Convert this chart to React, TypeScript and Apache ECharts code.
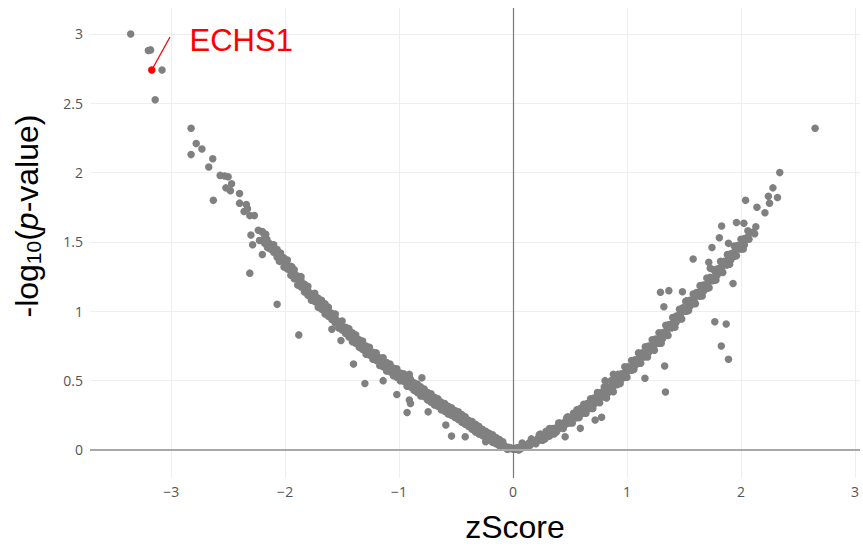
import React, { useEffect, useRef } from "react";
import * as echarts from "echarts";

// Axis ranges
const X_MIN = -3.712;
const X_MAX = 3.044;
const Y_MIN = -0.202;
const Y_MAX = 3.187;

// Dense band of the left arm (zScore, -log10 p)
const leftArm: [number, number][] = [
  [-2.2, 1.57], [-2.18, 1.53], [-2.16, 1.52], [-2.14, 1.49], [-2.15, 1.47], [-2.12, 1.48], [-2.1, 1.45],
  [-2.08, 1.44], [-2.07, 1.41], [-2.04, 1.4], [-2.02, 1.37], [-2.05, 1.36], [-2.0, 1.36], [-1.98, 1.33],
  [-1.96, 1.31], [-1.95, 1.29], [-1.94, 1.32], [-1.92, 1.27], [-1.9, 1.25], [-1.88, 1.23], [-1.87, 1.2],
  [-1.86, 1.22], [-1.84, 1.19], [-1.82, 1.17], [-1.8, 1.15], [-1.79, 1.13], [-1.78, 1.12], [-1.76, 1.12],
  [-1.75, 1.09], [-1.72, 1.09], [-1.71, 1.06], [-1.7, 1.07], [-1.68, 1.05], [-1.66, 1.03], [-1.64, 1.02],
  [-1.63, 0.99], [-1.62, 1.0], [-1.6, 0.98], [-1.58, 0.96], [-1.56, 0.95], [-1.55, 0.92], [-1.54, 0.93],
  [-1.52, 0.92], [-1.5, 0.89], [-1.48, 0.88], [-1.47, 0.86], [-1.46, 0.85], [-1.44, 0.85], [-1.42, 0.82],
  [-1.4, 0.82], [-1.39, 0.79], [-1.38, 0.8], [-1.36, 0.79], [-1.34, 0.76], [-1.32, 0.76], [-1.31, 0.73],
  [-1.3, 0.74], [-1.28, 0.73], [-1.26, 0.71], [-1.24, 0.7], [-1.23, 0.68], [-1.22, 0.69], [-1.2, 0.68],
  [-1.18, 0.65], [-1.16, 0.65], [-1.15, 0.62], [-1.14, 0.63], [-1.12, 0.62], [-1.1, 0.6], [-1.08, 0.59],
  [-1.07, 0.57], [-1.06, 0.58], [-1.04, 0.57], [-1.02, 0.55], [-1.0, 0.54], [-0.99, 0.52], [-0.98, 0.53],
  [-0.96, 0.52], [-0.94, 0.5], [-0.92, 0.5], [-0.91, 0.48], [-0.9, 0.47], [-0.88, 0.47], [-0.86, 0.45],
  [-0.84, 0.45], [-0.83, 0.43], [-0.82, 0.42], [-0.8, 0.42], [-0.78, 0.4], [-0.76, 0.4], [-0.75, 0.38],
  [-0.74, 0.39], [-0.72, 0.38], [-0.7, 0.36], [-0.68, 0.36], [-0.67, 0.34], [-0.66, 0.33], [-0.64, 0.33],
  [-0.62, 0.31], [-0.6, 0.31], [-0.59, 0.29], [-0.58, 0.3], [-0.56, 0.29], [-0.54, 0.27], [-0.52, 0.27],
  [-0.51, 0.25], [-0.5, 0.26], [-0.48, 0.25], [-0.46, 0.23], [-0.44, 0.23], [-0.43, 0.21], [-0.42, 0.22],
  [-0.4, 0.2], [-0.38, 0.19], [-0.36, 0.18], [-0.35, 0.16], [-0.34, 0.17], [-0.32, 0.16], [-0.3, 0.14],
  [-0.28, 0.13], [-0.27, 0.12], [-0.26, 0.125], [-0.24, 0.11], [-0.22, 0.1], [-0.2, 0.09], [-0.19, 0.08],
  [-0.16, 0.07], [-0.15, 0.06], [-0.14, 0.065], [-0.12, 0.05], [-0.1, 0.04], [-0.08, 0.035], [-0.07, 0.025],
  [-0.04, 0.02], [-0.03, 0.01], [-0.02, 0.015], [0.0, 0.005], [0.01, 0.01],
];
const leftArmUpper: [number, number][] = [
  [-2.1, 1.48], [-2.04, 1.42], [-1.98, 1.37], [-1.92, 1.3], [-1.86, 1.25], [-1.8, 1.18], [-1.74, 1.13],
  [-1.68, 1.08], [-1.62, 1.03], [-1.56, 0.98], [-1.5, 0.93], [-1.44, 0.875], [-1.38, 0.83], [-1.32, 0.785],
  [-1.26, 0.74], [-1.2, 0.7], [-1.14, 0.665], [-1.08, 0.62], [-1.02, 0.585], [-0.96, 0.55], [-0.9, 0.51],
  [-0.84, 0.475], [-0.78, 0.44], [-0.72, 0.405], [-0.66, 0.37], [-0.6, 0.335], [-0.54, 0.305], [-0.48, 0.275],
  [-0.42, 0.24], [-0.36, 0.205], [-0.3, 0.17], [-0.24, 0.135], [-0.18, 0.11], [-0.12, 0.075],
];
const leftArmUpperMid: [number, number][] = [
  [-2.07, 1.445], [-2.01, 1.385], [-1.95, 1.325], [-1.89, 1.255], [-1.83, 1.195], [-1.77, 1.125], [-1.71, 1.095],
  [-1.65, 1.055], [-1.59, 0.985], [-1.53, 0.925], [-1.47, 0.885], [-1.41, 0.845], [-1.35, 0.795], [-1.29, 0.75],
  [-1.23, 0.705], [-1.17, 0.665], [-1.11, 0.63], [-1.05, 0.59], [-0.99, 0.555], [-0.93, 0.52], [-0.87, 0.485],
  [-0.81, 0.455], [-0.75, 0.415], [-0.69, 0.38], [-0.63, 0.345], [-0.57, 0.315], [-0.51, 0.285], [-0.45, 0.255],
  [-0.39, 0.215], [-0.33, 0.185], [-0.27, 0.15], [-0.21, 0.12], [-0.15, 0.09], [-0.09, 0.06],
];
const leftArmLowerMid: [number, number][] = [
  [-2.1, 1.425], [-2.04, 1.365], [-1.98, 1.305], [-1.92, 1.235], [-1.86, 1.175], [-1.8, 1.115], [-1.74, 1.07],
  [-1.68, 1.015], [-1.62, 0.965], [-1.56, 0.915], [-1.5, 0.865], [-1.44, 0.815], [-1.38, 0.77], [-1.32, 0.725],
  [-1.26, 0.685], [-1.2, 0.645], [-1.14, 0.6], [-1.08, 0.565], [-1.02, 0.525], [-0.96, 0.495], [-0.9, 0.455],
  [-0.84, 0.415], [-0.78, 0.385], [-0.72, 0.345], [-0.66, 0.315], [-0.6, 0.28], [-0.54, 0.25], [-0.48, 0.22],
  [-0.42, 0.185], [-0.36, 0.15], [-0.3, 0.115], [-0.24, 0.085], [-0.18, 0.055], [-0.12, 0.03],
];
const leftArmLower: [number, number][] = [
  [-2.13, 1.45], [-2.07, 1.39], [-2.01, 1.32], [-1.95, 1.26], [-1.89, 1.19], [-1.83, 1.14], [-1.77, 1.08],
  [-1.71, 1.03], [-1.65, 0.98], [-1.59, 0.94], [-1.53, 0.88], [-1.47, 0.84], [-1.41, 0.78], [-1.35, 0.74],
  [-1.29, 0.69], [-1.23, 0.655], [-1.17, 0.61], [-1.11, 0.57], [-1.05, 0.535], [-0.99, 0.5], [-0.93, 0.46],
  [-0.87, 0.43], [-0.81, 0.39], [-0.75, 0.36], [-0.69, 0.325], [-0.63, 0.29], [-0.57, 0.26], [-0.51, 0.235],
  [-0.45, 0.2], [-0.39, 0.17], [-0.33, 0.13], [-0.27, 0.105], [-0.21, 0.075], [-0.15, 0.045], [-0.09, 0.02],
  [-0.05, 0.005],
];

// Points off the left band
const leftScatter: [number, number][] = [
  [-2.825, 2.32], [-2.78, 2.21], [-2.73, 2.17], [-2.825, 2.13], [-2.635, 2.1], [-2.67, 2.04], [-2.57, 1.98],
  [-2.53, 1.975], [-2.5, 1.97], [-2.47, 1.92], [-2.52, 1.89], [-2.48, 1.87], [-2.4, 1.85], [-2.63, 1.8],
  [-2.4, 1.78], [-2.34, 1.77], [-2.33, 1.74], [-2.36, 1.72], [-2.31, 1.69], [-2.27, 1.69], [-2.3, 1.55],
  [-2.235, 1.585], [-2.2, 1.575], [-2.17, 1.555], [-2.285, 1.48], [-2.2, 1.41], [-2.225, 1.51], [-2.18, 1.49],
  [-2.155, 1.46], [-2.31, 1.275], [-2.07, 1.05], [-1.88, 0.83], [-1.59, 0.87], [-1.51, 0.79], [-1.4, 0.62],
  [-1.3, 0.48], [-1.14, 0.5], [-1.02, 0.4], [-0.91, 0.545], [-0.8, 0.52], [-0.91, 0.36], [-0.9, 0.335],
  [-0.93, 0.27], [-0.745, 0.275], [-0.59, 0.18], [-0.54, 0.1], [-0.42, 0.095], [-0.24, 0.06],
];

// Most significant points on the far left
const topLeft: [number, number][] = [
  [-3.355, 3.0], [-3.2, 2.88], [-3.18, 2.885], [-3.08, 2.74], [-3.14, 2.525],
];

// Dense band of the right arm
const rightArm: [number, number][] = [
  [0.02, 0.005], [0.03, 0.015], [0.06, 0.02], [0.07, 0.01], [0.05, 0.0], [0.1, 0.035], [0.11, 0.02],
  [0.14, 0.05], [0.15, 0.035], [0.13, 0.04], [0.18, 0.065], [0.19, 0.05], [0.22, 0.085], [0.23, 0.07],
  [0.21, 0.075], [0.26, 0.1], [0.27, 0.085], [0.3, 0.12], [0.31, 0.105], [0.29, 0.11], [0.34, 0.14],
  [0.35, 0.125], [0.38, 0.16], [0.39, 0.145], [0.37, 0.15], [0.42, 0.18], [0.43, 0.165], [0.46, 0.205],
  [0.47, 0.19], [0.45, 0.195], [0.5, 0.225], [0.51, 0.21], [0.54, 0.25], [0.55, 0.235], [0.53, 0.24],
  [0.58, 0.275], [0.59, 0.26], [0.62, 0.295], [0.63, 0.28], [0.61, 0.29], [0.66, 0.32], [0.67, 0.305],
  [0.7, 0.345], [0.71, 0.33], [0.69, 0.34], [0.74, 0.375], [0.75, 0.36], [0.78, 0.4], [0.79, 0.385],
  [0.77, 0.39], [0.82, 0.425], [0.83, 0.41], [0.86, 0.455], [0.87, 0.44], [0.85, 0.45], [0.9, 0.49],
  [0.91, 0.47], [0.94, 0.525], [0.95, 0.51], [0.93, 0.51], [0.98, 0.555], [0.99, 0.54], [1.02, 0.59],
  [1.03, 0.575], [1.01, 0.58], [1.06, 0.625], [1.07, 0.61], [1.1, 0.655], [1.11, 0.64], [1.09, 0.645],
  [1.14, 0.69], [1.15, 0.67], [1.18, 0.72], [1.19, 0.705], [1.17, 0.71], [1.22, 0.755], [1.23, 0.74],
  [1.26, 0.785], [1.27, 0.77], [1.25, 0.78], [1.3, 0.82], [1.31, 0.8], [1.34, 0.855], [1.35, 0.84],
  [1.33, 0.845], [1.38, 0.895], [1.39, 0.88], [1.42, 0.935], [1.43, 0.92], [1.41, 0.925], [1.46, 0.975],
  [1.47, 0.96], [1.5, 1.015], [1.51, 1.0], [1.49, 1.005], [1.54, 1.05], [1.55, 1.035], [1.58, 1.085],
  [1.59, 1.07], [1.57, 1.08], [1.62, 1.125], [1.63, 1.11], [1.66, 1.16], [1.67, 1.145], [1.65, 1.15],
  [1.7, 1.195], [1.71, 1.18], [1.74, 1.235], [1.75, 1.22], [1.73, 1.225], [1.78, 1.275], [1.79, 1.26],
  [1.82, 1.315], [1.83, 1.3], [1.81, 1.305], [1.86, 1.35], [1.87, 1.335], [1.9, 1.385], [1.91, 1.37],
  [1.89, 1.38], [1.94, 1.425], [1.95, 1.41], [1.98, 1.465], [1.99, 1.45], [2.02, 1.495], [2.03, 1.48],
  [2.06, 1.535], [2.07, 1.52], [2.1, 1.57], [2.12, 1.56],
];
const rightArmUpper: [number, number][] = [
  [0.08, 0.05], [0.16, 0.08], [0.24, 0.115], [0.32, 0.155], [0.4, 0.195], [0.48, 0.24], [0.56, 0.29],
  [0.62, 0.33], [0.68, 0.37], [0.74, 0.415], [0.8, 0.455], [0.86, 0.5], [0.92, 0.545], [0.98, 0.6],
  [1.04, 0.645], [1.1, 0.7], [1.16, 0.745], [1.22, 0.795], [1.28, 0.845], [1.34, 0.9], [1.4, 0.955],
  [1.46, 1.015], [1.52, 1.075], [1.58, 1.125], [1.64, 1.185], [1.7, 1.24], [1.76, 1.3], [1.82, 1.36],
  [1.88, 1.41], [1.94, 1.47], [2.0, 1.52], [2.06, 1.58],
];
const rightArmUpperMid: [number, number][] = [
  [0.23, 0.11], [0.29, 0.135], [0.35, 0.155], [0.41, 0.195], [0.47, 0.23], [0.53, 0.265], [0.59, 0.3],
  [0.65, 0.335], [0.71, 0.375], [0.77, 0.415], [0.83, 0.455], [0.89, 0.5], [0.95, 0.55], [1.01, 0.6],
  [1.07, 0.65], [1.13, 0.7], [1.19, 0.75], [1.25, 0.8], [1.31, 0.845], [1.37, 0.905], [1.43, 0.965],
  [1.49, 1.025], [1.55, 1.08], [1.61, 1.135], [1.67, 1.19], [1.73, 1.245], [1.79, 1.305], [1.85, 1.36],
  [1.91, 1.415], [1.97, 1.475], [2.03, 1.525],
];
const rightArmLowerMid: [number, number][] = [
  [0.26, 0.07], [0.32, 0.1], [0.38, 0.13], [0.44, 0.165], [0.5, 0.195], [0.56, 0.232], [0.62, 0.265],
  [0.68, 0.3], [0.74, 0.345], [0.8, 0.383], [0.86, 0.425], [0.92, 0.475], [0.98, 0.525], [1.04, 0.575],
  [1.1, 0.625], [1.16, 0.675], [1.22, 0.725], [1.28, 0.77], [1.34, 0.825], [1.4, 0.885], [1.46, 0.945],
  [1.52, 1.0], [1.58, 1.055], [1.64, 1.11], [1.7, 1.165], [1.76, 1.225], [1.82, 1.285], [1.88, 1.335],
  [1.94, 1.395], [2.0, 1.45],
];
const rightArmLower: [number, number][] = [
  [0.12, 0.02], [0.2, 0.045], [0.28, 0.08], [0.36, 0.115], [0.44, 0.155], [0.52, 0.195], [0.58, 0.235],
  [0.64, 0.265], [0.7, 0.3], [0.76, 0.34], [0.82, 0.375], [0.88, 0.42], [0.94, 0.48], [1.0, 0.525],
  [1.06, 0.58], [1.12, 0.625], [1.18, 0.67], [1.24, 0.72], [1.3, 0.77], [1.36, 0.825], [1.42, 0.885],
  [1.48, 0.945], [1.54, 1.005], [1.6, 1.055], [1.66, 1.11], [1.72, 1.17], [1.78, 1.225], [1.84, 1.28],
  [1.9, 1.34], [1.96, 1.4], [2.02, 1.45],
];

// Points off the right band
const rightScatter: [number, number][] = [
  [0.777, 0.236], [0.72, 0.216], [0.59, 0.156], [0.457, 0.096], [0.807, 0.5], [0.88, 0.546], [1.157, 0.517],
  [1.33, 0.606], [1.337, 0.418], [1.58, 1.377], [1.293, 1.137], [1.367, 1.149], [1.486, 1.141], [1.323, 1.033],
  [1.515, 1.07], [1.745, 1.46], [1.81, 1.53], [1.89, 1.49], [1.717, 1.353], [1.73, 1.31], [1.93, 1.2],
  [1.77, 0.925], [1.87, 0.908], [1.827, 0.75], [1.89, 0.654], [2.65, 2.32], [2.34, 2.0], [2.28, 1.89],
  [2.24, 1.83], [2.32, 1.82], [2.25, 1.78], [2.14, 1.75], [2.21, 1.71], [2.04, 1.8], [1.83, 1.615],
  [1.96, 1.64], [2.025, 1.635], [2.13, 1.61],
];

// Highlighted gene
const highlightName = "ECHS1";
const highlightPoint: [number, number] = [-3.17, 2.74];

const GREY = "#808080";
const RED = "#ff0000";

const fmtX = (v: number) => {
  if (Math.abs(v - Math.round(v)) > 1e-6) return "";
  const r = Math.round(v);
  return r < 0 ? "\u2212" + Math.abs(r) : String(r);
};
const fmtY = (v: number) => {
  const k = v / 0.5;
  if (Math.abs(k - Math.round(k)) > 1e-6 || v < -1e-6 || v > 3.01) return "";
  return String(Math.round(k) * 0.5);
};

export default function App() {
  const ref = useRef<HTMLDivElement>(null);
  useEffect(() => {
    if (!ref.current) return;
    const chart = echarts.init(ref.current, undefined, { renderer: "svg" });
    const allGrey = [
      ...leftArm, ...leftArmUpper, ...leftArmUpperMid, ...leftArmLowerMid, ...leftArmLower, ...leftScatter, ...topLeft,
      ...rightArm, ...rightArmUpper, ...rightArmUpperMid, ...rightArmLowerMid, ...rightArmLower, ...rightScatter,
    ];
    chart.setOption({
      animation: false,
      backgroundColor: "#ffffff",
      grid: { left: 90, right: 0, top: 8, bottom: 72, containLabel: false },
      xAxis: {
        type: "value",
        min: X_MIN,
        max: X_MAX,
        minInterval: 1,
        maxInterval: 1,
        axisLine: { show: false },
        axisTick: { show: false },
        splitLine: { show: true, showMinLine: false, showMaxLine: false, lineStyle: { color: "#eeeeee", width: 1 } },
        axisLabel: { color: "#555", fontSize: 14, fontFamily: "Open Sans", margin: 6, formatter: fmtX, showMinLabel: false },
        name: "zScore",
        nameLocation: "middle",
        nameGap: 33,
        nameTextStyle: { fontFamily: "Liberation Sans", fontSize: 32, color: "#000", padding: [0, 0, 0, 80] },
      },
      yAxis: {
        type: "value",
        min: Y_MIN,
        max: Y_MAX,
        minInterval: 0.5,
        maxInterval: 0.5,
        axisLine: { show: false },
        axisTick: { show: false },
        splitLine: { show: true, showMinLine: false, showMaxLine: false, lineStyle: { color: "#eeeeee", width: 1 } },
        axisLabel: { color: "#555", fontSize: 14, fontFamily: "Open Sans", margin: 7, formatter: fmtY, showMinLabel: false, showMaxLabel: false },
        name: "{a|-log}{s|10}{a|(}{i|p}{a|-value)}",
        nameLocation: "middle",
        nameRotate: 90,
        nameGap: 46,
        nameTextStyle: {
          padding: [0, 0, 0, 54],
          rich: {
            a: { fontFamily: "Liberation Sans", fontSize: 32, color: "#000", lineHeight: 34, verticalAlign: "middle" },
            i: { fontFamily: "Liberation Sans", fontSize: 32, fontStyle: "italic", color: "#000", lineHeight: 34, verticalAlign: "middle" },
            s: { fontFamily: "Liberation Sans", fontSize: 21, color: "#000", lineHeight: 20, verticalAlign: "bottom" },
          },
        },
      },
      series: [
        {
          type: "scatter",
          data: [],
          z: 1,
          silent: true,
          markLine: {
            silent: true,
            symbol: ["none", "none"],
            label: { show: false },
            animation: false,
            data: [
              { xAxis: 0, lineStyle: { color: "#7a7a7a", width: 1.2, type: "solid" } },
              { yAxis: 0, lineStyle: { color: "#a8a8a8", width: 2, type: "solid" } },
            ],
          },
        },
        {
          type: "scatter",
          z: 2,
          symbolSize: 7.5,
          itemStyle: { color: GREY, opacity: 1 },
          data: allGrey,
        },
        {
          type: "scatter",
          z: 3,
          symbolSize: 7.5,
          itemStyle: { color: RED, opacity: 1 },
          data: [highlightPoint],
          label: {
            show: true,
            formatter: highlightName,
            position: "right",
            distance: 0,
            offset: [34, -29],
            color: RED,
            opacity: 1,
            fontSize: 31,
            fontFamily: "Liberation Sans",
          },
          markLine: {
            silent: true,
            symbol: ["none", "none"],
            label: { show: false },
            lineStyle: { color: RED, width: 1.3, type: "solid", opacity: 1 },
            data: [[{ coord: highlightPoint }, { x: 170, y: 37 }]],
          },
        },
      ],
    });
    return () => chart.dispose();
  }, []);
  return (
    <div
      ref={ref}
      style={{ position: "fixed", left: 0, top: 0, width: 863, height: 550, background: "#fff" }}
    />
  );
}
